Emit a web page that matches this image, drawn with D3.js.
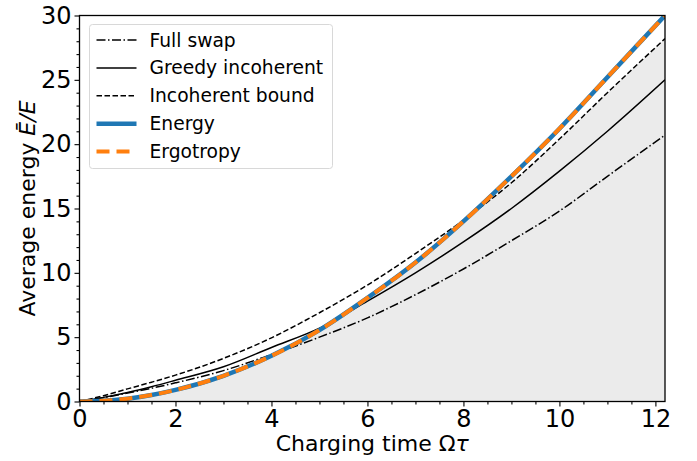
<!DOCTYPE html>
<html lang="en">
<head>
  <meta charset="UTF-8">
  <title>Charging energy</title>
  <script src="https://d3js.org/d3.v7.min.js"></script>
  <style>
    body { margin: 0; background: white; }
    text { font-family: "DejaVu Sans", sans-serif; fill: black; }
  </style>
</head>
<body>
  <div id="chart"></div>
  <script>
    const width = 697, height = 461;

    // charging time samples (Omega tau)
    const times = [0, 0.5, 1, 1.5, 2, 3, 4, 5, 6, 7, 8, 9, 10, 11, 12.2];
    // curves
    const fullSwap = [0, 0.3, 0.66, 1.03, 1.45, 2.4, 3.65, 5.0, 6.5, 8.3, 10.3, 12.5, 14.8, 17.5, 20.7];
    const greedy = [0, 0.32, 0.7, 1.15, 1.65, 2.7, 4.2, 5.7, 7.8, 10.0, 12.4, 15.0, 17.9, 21.0, 25.0];
    const bound = [0, 0.45, 0.98, 1.5, 2.05, 3.35, 4.95, 6.9, 9.05, 11.5, 14.1, 17.0, 20.4, 24.0, 28.2];
    const energy = [0, 0.05, 0.22, 0.5, 0.9, 2.0, 3.55, 5.55, 8.05, 10.8, 14.0, 17.5, 21.2, 25.2, 30.0];
    const ergotropy = energy.slice();

    const xTicks = [0, 2, 4, 6, 8, 10, 12];
    const yTicks = [0, 5, 10, 15, 20, 25, 30];

    const margin = {left: 79.5, right: 32, top: 15.5, bottom: 59.5};
    const iw = width - margin.left - margin.right;
    const ih = height - margin.top - margin.bottom;

    const svg = d3.select("#chart").append("svg")
      .attr("width", width)
      .attr("height", height);

    const g = svg.append("g")
      .attr("transform", `translate(${margin.left},${margin.top})`);

    const x = d3.scaleLinear().domain([0, 12.2]).range([0, iw]);
    const y = d3.scaleLinear().domain([0, 30]).range([ih, 0]);

    g.append("clipPath").attr("id", "clip")
      .append("rect").attr("width", iw).attr("height", ih);

    const plot = g.append("g").attr("clip-path", "url(#clip)");

    // shaded region under the lower of energy / incoherent bound
    const shade = times.map((t, i) => [t, Math.min(energy[i], bound[i])]);
    plot.append("path")
      .datum(shade)
      .attr("fill", "#ebebeb")
      .attr("d", d3.area()
        .x(d => x(d[0]))
        .y0(y(0))
        .y1(d => y(d[1]))
        .curve(d3.curveMonotoneX));

    const line = d3.line()
      .x(d => x(d[0]))
      .y(d => y(d[1]))
      .curve(d3.curveMonotoneX);

    const series = [
      {name: "Full swap", values: fullSwap, color: "black", w: 1.5, dash: "9,2.5,1.5,2.5"},
      {name: "Greedy incoherent", values: greedy, color: "black", w: 1.5, dash: null},
      {name: "Incoherent bound", values: bound, color: "black", w: 1.5, dash: "5.5,2.5"},
      {name: "Energy", values: energy, color: "#1f77b4", w: 4.5, dash: null},
      {name: "Ergotropy", values: ergotropy, color: "#ff7f0e", w: 4, dash: "13,7"}
    ];

    series.forEach(s => {
      plot.append("path")
        .datum(times.map((t, i) => [t, s.values[i]]))
        .attr("fill", "none")
        .attr("stroke", s.color)
        .attr("stroke-width", s.w)
        .attr("stroke-dasharray", s.dash)
        .attr("d", line);
    });

    // axes
    const xAxis = g.append("g")
      .attr("transform", `translate(0,${ih})`)
      .call(d3.axisBottom(x).tickValues(xTicks).tickSize(5).tickPadding(3.5));
    g.append("g")
      .attr("transform", `translate(0,${ih})`)
      .call(d3.axisBottom(x).tickValues(d3.range(0, 12.01, 0.5).filter(v => v % 2 !== 0))
        .tickSize(3).tickFormat(""))
      .select(".domain").remove();

    const yAxis = g.append("g")
      .call(d3.axisLeft(y).tickValues(yTicks).tickSize(5).tickPadding(3));
    g.append("g")
      .call(d3.axisLeft(y).tickValues(d3.range(0, 30.01, 1).filter(v => v % 5 !== 0))
        .tickSize(3).tickFormat(""))
      .select(".domain").remove();

    [xAxis, yAxis].forEach(a => {
      a.selectAll("text").style("font-size", "24px").style("font-family", "DejaVu Sans");
      a.select(".domain").remove();
    });
    g.selectAll(".tick line").attr("stroke-width", 1.1);

    // frame
    g.append("rect")
      .attr("width", iw).attr("height", ih)
      .attr("fill", "none").attr("stroke", "black").attr("stroke-width", 1.3);

    // axis labels
    const xl = svg.append("text")
      .attr("x", margin.left + iw / 2)
      .attr("y", 451)
      .attr("text-anchor", "middle")
      .style("font-size", "22px");
    xl.append("tspan").text("Charging time Ω");
    xl.append("tspan").style("font-style", "italic").text("τ");

    const yl = svg.append("text")
      .attr("transform", `translate(35,${margin.top + ih / 2}) rotate(-90)`)
      .attr("text-anchor", "middle")
      .style("font-size", "22px");
    yl.append("tspan").text("Average energy ");
    yl.append("tspan").style("font-style", "italic").text("Ē/E");

    // legend
    const leg = g.append("g").attr("transform", "translate(10,9)");
    leg.append("rect")
      .attr("width", 243).attr("height", 144)
      .attr("rx", 3)
      .attr("fill", "white").attr("fill-opacity", 0.8)
      .attr("stroke", "#d8d8d8").attr("stroke-width", 1);

    series.forEach((s, i) => {
      const row = leg.append("g").attr("transform", `translate(7,${15.5 + i * 27.9})`);
      row.append("line")
        .attr("x1", 0).attr("x2", 40)
        .attr("stroke", s.color)
        .attr("stroke-width", s.w)
        .attr("stroke-dasharray", s.dash);
      row.append("text")
        .attr("x", 53)
        .attr("dy", "0.35em")
        .style("font-size", "18.7px")
        .text(s.name);
    });
  </script>
</body>
</html>
